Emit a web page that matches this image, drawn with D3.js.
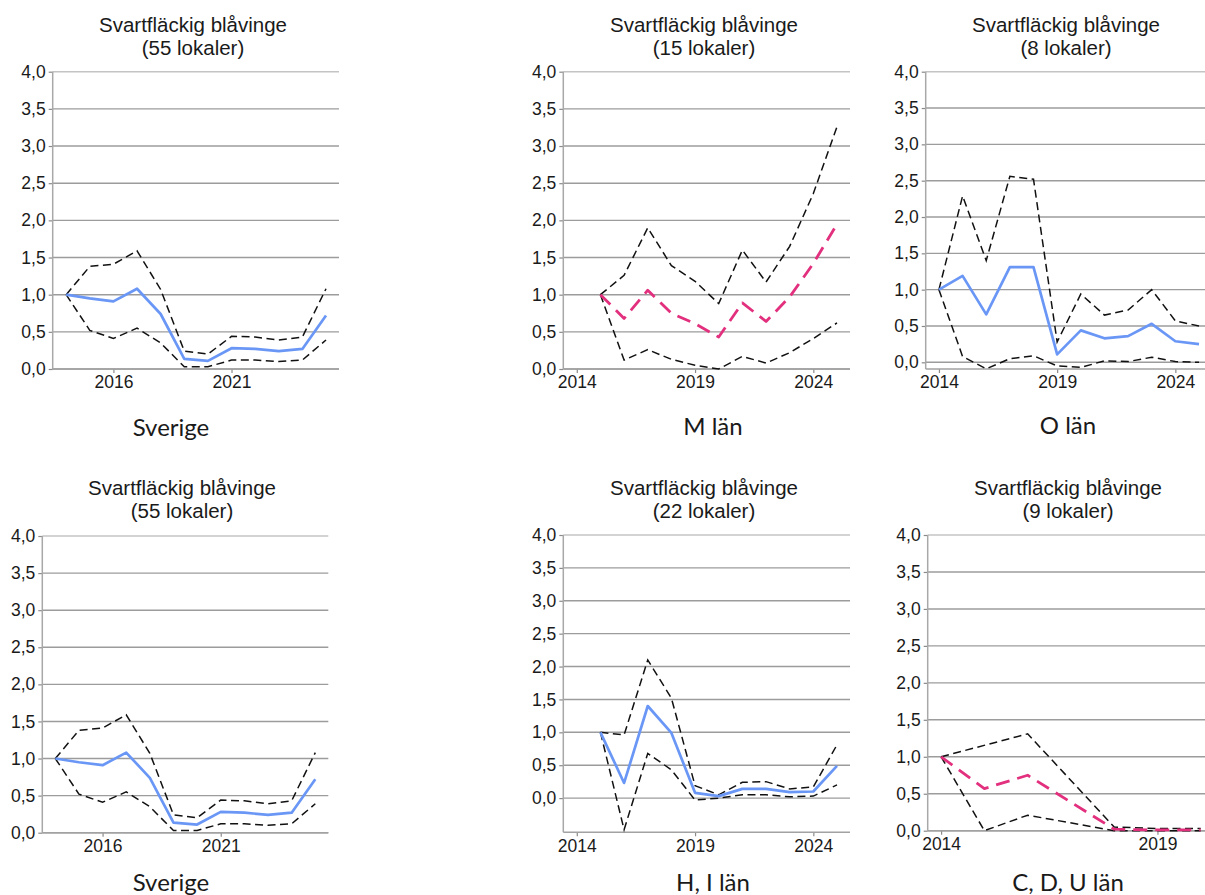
<!DOCTYPE html>
<html>
<head>
<meta charset="utf-8">
<script src="https://cdn.jsdelivr.net/npm/d3@7/dist/d3.min.js"></script>
<style>
  html, body { margin: 0; padding: 0; background: #fff; }
  svg { display: block; }
</style>
</head>
<body>
<svg id="chart" width="1205" height="895"></svg>
<script>
// ---------------- DATA ----------------
const speciesTitle = "Svartfläckig blåvinge";

const yearsSverige = [2014, 2015, 2016, 2017, 2018, 2019, 2020, 2021, 2022, 2023, 2024, 2025];
const sverigeMean  = [1.00, 0.95, 0.91, 1.08, 0.74, 0.135, 0.11, 0.28, 0.27, 0.24, 0.27, 0.72];
const sverigeUpper = [1.00, 1.38, 1.41, 1.59, 1.07, 0.24, 0.20, 0.44, 0.43, 0.39, 0.43, 1.08];
const sverigeLower = [1.00, 0.52, 0.41, 0.55, 0.35, 0.03, 0.03, 0.12, 0.12, 0.10, 0.12, 0.39];

const yearsM = [2015, 2016, 2017, 2018, 2019, 2020, 2021, 2022, 2023, 2024, 2025];
const mMean  = [1.00, 0.68, 1.06, 0.75, 0.61, 0.43, 0.89, 0.64, 0.97, 1.42, 1.95];
const mUpper = [1.00, 1.26, 1.90, 1.39, 1.18, 0.88, 1.60, 1.17, 1.65, 2.36, 3.26];
const mLower = [1.00, 0.12, 0.26, 0.13, 0.05, 0.00, 0.17, 0.08, 0.22, 0.41, 0.62];

const yearsO = [2014, 2015, 2016, 2017, 2018, 2019, 2020, 2021, 2022, 2023, 2024, 2025];
const oMean  = [1.00, 1.19, 0.66, 1.31, 1.31, 0.11, 0.44, 0.33, 0.36, 0.53, 0.29, 0.25];
const oUpper = [1.00, 2.29, 1.40, 2.56, 2.52, 0.28, 0.94, 0.65, 0.72, 1.00, 0.57, 0.50];
const oLower = [1.00, 0.08, -0.09, 0.05, 0.09, -0.05, -0.07, 0.02, 0.01, 0.07, 0.01, 0.00];

const yearsHI = [2015, 2016, 2017, 2018, 2019, 2020, 2021, 2022, 2023, 2024, 2025];
const hiMean  = [1.00, 0.23, 1.40, 0.99, 0.08, 0.03, 0.14, 0.14, 0.09, 0.10, 0.49];
const hiUpper = [1.00, 0.96, 2.10, 1.52, 0.19, 0.05, 0.24, 0.25, 0.14, 0.17, 0.81];
const hiLower = [1.00, -0.48, 0.68, 0.43, -0.03, 0.00, 0.05, 0.05, 0.02, 0.03, 0.20];

const yearsCDU = [2014, 2015, 2016, 2018, 2019, 2020];
const cduMean  = [1.00, 0.57, 0.75, 0.02, 0.01, 0.01];
const cduUpper = [1.00, null, 1.31, 0.05, 0.03, 0.03];
const cduLower = [1.00, 0.00, 0.21, 0.00, 0.00, 0.00];

const yTickValues = [0, 0.5, 1, 1.5, 2, 2.5, 3, 3.5, 4];
const xTicksSverige = [2016, 2021];
const xTicksRegion = [2014, 2019, 2024];
const xTicksCDU = [2014, 2019];

// ---------------- LAYOUT ----------------
const panels = [
  { years: yearsSverige, mean: sverigeMean, upper: sverigeUpper, lower: sverigeLower, meanType: "solid",
    sub: "(55 lokaler)", label: "Sverige", xTicks: xTicksSverige,
    left: 52.7, top: 71.7, width: 286.3, height: 297.3, xDom: [2013.43, 2025.55], yDom: [0, 4],
    titleX: 193, titleY: 32, labelX: 171, labelY: 436 },
  { years: yearsM, mean: mMean, upper: mUpper, lower: mLower, meanType: "pinkdash",
    sub: "(15 lokaler)", label: "M län", xTicks: xTicksRegion,
    left: 563.3, top: 71.7, width: 286.7, height: 297.3, xDom: [2013.43, 2025.55], yDom: [0, 4],
    titleX: 704, titleY: 32, labelX: 713, labelY: 435 },
  { years: yearsO, mean: oMean, upper: oUpper, lower: oLower, meanType: "solid",
    sub: "(8 lokaler)", label: "O län", xTicks: xTicksRegion,
    left: 925.7, top: 71.7, width: 286.3, height: 297.3, xDom: [2013.44, 2025.55], yDom: [-0.092, 4],
    titleX: 1066, titleY: 32, labelX: 1068, labelY: 434 },
  { years: yearsSverige, mean: sverigeMean, upper: sverigeUpper, lower: sverigeLower, meanType: "solid",
    sub: "(55 lokaler)", label: "Sverige", xTicks: xTicksSverige,
    left: 42.3, top: 536, width: 286, height: 296.7, xDom: [2013.45, 2025.55], yDom: [0, 4],
    titleX: 182, titleY: 495, labelX: 171, labelY: 891 },
  { years: yearsHI, mean: hiMean, upper: hiUpper, lower: hiLower, meanType: "solid",
    sub: "(22 lokaler)", label: "H, I län", xTicks: xTicksRegion,
    left: 563.3, top: 535, width: 286.7, height: 297.3, xDom: [2013.43, 2025.55], yDom: [-0.52, 4],
    titleX: 704, titleY: 495, labelX: 713, labelY: 891 },
  { years: yearsCDU, mean: cduMean, upper: cduUpper, lower: cduLower, meanType: "pinkdash",
    sub: "(9 lokaler)", label: "C, D, U län", xTicks: xTicksCDU,
    left: 927.7, top: 535, width: 286, height: 295.7, xDom: [2013.69, 2020.3], yDom: [0, 4],
    titleX: 1068, titleY: 495, labelX: 1068, labelY: 891 }
];

const svg = d3.select("#chart");
svg.append("rect").attr("width", 1205).attr("height", 895).attr("fill", "#fff");

const sansFont = "Arial, 'Liberation Sans', sans-serif";
const labelFont = "Lato, 'Open Sans', sans-serif";
const fmt = v => d3.format(".1f")(v).replace(".", ",");

panels.forEach(p => {
  const g = svg.append("g");
  const x = d3.scaleLinear().domain(p.xDom).range([p.left, p.left + p.width]);
  const y = d3.scaleLinear().domain(p.yDom).range([p.top + p.height, p.top]);
  const bottom = p.top + p.height;

  // Title
  const t = g.append("text")
    .attr("x", p.titleX).attr("y", p.titleY)
    .attr("text-anchor", "middle")
    .attr("font-family", sansFont).attr("font-size", 20.5).attr("fill", "#1a1a1a");
  t.append("tspan").attr("x", p.titleX).attr("dy", 0).text(speciesTitle);
  t.append("tspan").attr("x", p.titleX).attr("dy", 23.3).text(p.sub);

  // Gridlines
  g.append("g").selectAll("line").data(yTickValues).join("line")
    .attr("x1", p.left).attr("x2", p.left + p.width)
    .attr("y1", d => y(d)).attr("y2", d => y(d))
    .attr("stroke", (d, i) => i === yTickValues.length - 1 ? "#c4c4c4" : "#9c9c9c")
    .attr("stroke-width", 1.4);

  // Y axis
  const yAxis = d3.axisLeft(y).tickValues(yTickValues).tickFormat(fmt).tickSize(4).tickPadding(3);
  const ya = g.append("g").attr("transform", `translate(${p.left},0)`).call(yAxis);
  ya.select(".domain").remove();
  ya.selectAll(".tick line").attr("stroke", "#8a8a8a").attr("stroke-width", 1.2);
  ya.selectAll(".tick text").attr("font-family", sansFont).attr("font-size", 17.5)
    .attr("fill", "#1a1a1a");
  g.append("line").attr("x1", p.left).attr("x2", p.left).attr("y1", p.top).attr("y2", bottom)
    .attr("stroke", "#a8a8a8").attr("stroke-width", 1.5);

  // X axis
  const xAxis = d3.axisBottom(x).tickValues(p.xTicks).tickFormat(d3.format("d")).tickSize(4).tickPadding(3);
  const xa = g.append("g").attr("transform", `translate(0,${bottom})`).call(xAxis);
  xa.select(".domain").remove();
  xa.selectAll(".tick line").attr("stroke", "#8a8a8a").attr("stroke-width", 1.2);
  xa.selectAll(".tick text").attr("font-family", sansFont).attr("font-size", 17.5)
    .attr("fill", "#1a1a1a");
  g.append("line").attr("x1", p.left).attr("x2", p.left + p.width).attr("y1", bottom).attr("y2", bottom)
    .attr("stroke", "#a2a2a2").attr("stroke-width", 1.5);

  // Lines
  const line = d3.line().x(d => x(d.yr)).y(d => y(d.v));
  const pts = arr => p.years.map((yr, i) => ({ yr, v: arr[i] })).filter(d => d.v !== null);

  [p.upper, p.lower].forEach(arr => {
    g.append("path").datum(pts(arr)).attr("d", line)
      .attr("fill", "none").attr("stroke", "#111").attr("stroke-width", 1.5)
      .attr("stroke-dasharray", "8,4.5").attr("stroke-linejoin", "miter");
  });

  const meanPath = g.append("path").datum(pts(p.mean)).attr("d", line).attr("fill", "none");
  if (p.meanType === "solid") {
    meanPath.attr("stroke", "#6a97f6").attr("stroke-width", 2.7).attr("stroke-linejoin", "round");
  } else {
    meanPath.attr("stroke", "#e2307e").attr("stroke-width", 2.8)
      .attr("stroke-dasharray", "14,8").attr("stroke-linejoin", "round");
  }

  // Region label
  g.append("text").attr("x", p.labelX).attr("y", p.labelY)
    .attr("text-anchor", "middle").attr("font-family", labelFont).attr("font-size", 24)
    .attr("fill", "#1a1a1a").text(p.label);
});
</script>
</body>
</html>
